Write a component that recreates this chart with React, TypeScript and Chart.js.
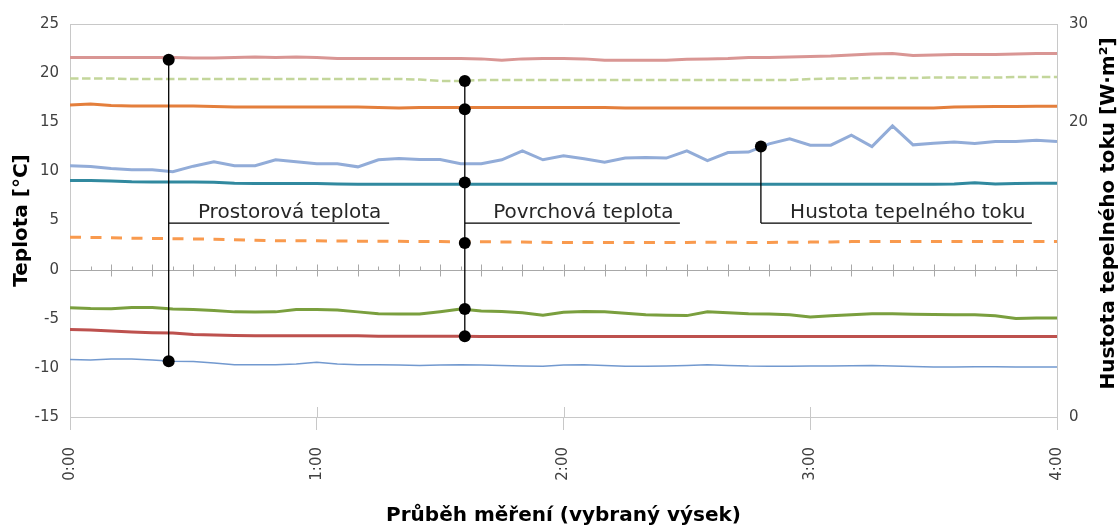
import React, { useEffect, useRef } from "react";
import { Chart, registerables } from "chart.js";

Chart.register(...registerables);

const FONT = "'DejaVu Sans', Verdana, sans-serif";

// time axis (minutes from start)
const timeMinutes = [
  0, 5, 10, 15, 20, 25, 30, 35, 40, 45, 50, 55, 60, 65, 70, 75, 80, 85, 90, 95,
  100, 105, 110, 115, 120, 125, 130, 135, 140, 145, 150, 155, 160, 165, 170, 175,
  180, 185, 190, 195, 200, 205, 210, 215, 220, 225, 230, 235, 240,
];
const hourTickLabels = ["0:00", "1:00", "2:00", "3:00", "4:00"];
const rightTickValues = [-10, 20, 30];
const rightTickLabels = ["0", "20", "30"];

// left axis series (°C)
const airTempIndoor = [
  21.6, 21.6, 21.6, 21.6, 21.6, 21.6, 21.55, 21.55, 21.6, 21.65, 21.6, 21.65, 21.6,
  21.5, 21.5, 21.5, 21.5, 21.5, 21.5, 21.5, 21.45, 21.3, 21.45, 21.5, 21.5, 21.45,
  21.3, 21.3, 21.3, 21.3, 21.4, 21.45, 21.5, 21.6, 21.6, 21.65, 21.7, 21.75, 21.85,
  21.95, 22.0, 21.8, 21.85, 21.9, 21.9, 21.9, 21.95, 22.0, 22.0,
];
const surfTempA = [
  19.45, 19.45, 19.45, 19.4, 19.4, 19.4, 19.4, 19.4, 19.4, 19.4, 19.4, 19.4, 19.4,
  19.4, 19.4, 19.4, 19.4, 19.35, 19.2, 19.2, 19.3, 19.3, 19.3, 19.3, 19.3, 19.3,
  19.3, 19.3, 19.3, 19.3, 19.3, 19.3, 19.3, 19.3, 19.3, 19.3, 19.4, 19.45, 19.45,
  19.5, 19.5, 19.5, 19.55, 19.55, 19.55, 19.55, 19.6, 19.6, 19.6,
];
const surfTempB = [
  16.75, 16.85, 16.7, 16.65, 16.65, 16.65, 16.65, 16.6, 16.55, 16.55, 16.55, 16.55,
  16.55, 16.55, 16.55, 16.5, 16.45, 16.5, 16.5, 16.5, 16.5, 16.5, 16.5, 16.5, 16.5,
  16.5, 16.5, 16.45, 16.45, 16.45, 16.45, 16.45, 16.45, 16.45, 16.45, 16.45, 16.45,
  16.45, 16.45, 16.45, 16.45, 16.45, 16.45, 16.55, 16.58, 16.6, 16.6, 16.62, 16.62,
];
const surfTempC = [
  9.07, 9.07, 9.02, 8.95, 8.93, 8.93, 8.93, 8.9, 8.8, 8.76, 8.76, 8.76, 8.76, 8.72,
  8.68, 8.68, 8.68, 8.68, 8.68, 8.68, 8.68, 8.68, 8.68, 8.68, 8.68, 8.68, 8.68, 8.68,
  8.68, 8.68, 8.68, 8.68, 8.68, 8.68, 8.68, 8.68, 8.68, 8.68, 8.68, 8.68, 8.68, 8.68,
  8.68, 8.72, 8.83, 8.72, 8.76, 8.78, 8.78,
];
const surfTempD = [
  3.3, 3.28, 3.25, 3.2, 3.18, 3.15, 3.12, 3.1, 3.05, 3.0, 2.95, 2.95, 2.93, 2.92, 2.9,
  2.9, 2.88, 2.87, 2.85, 2.84, 2.83, 2.82, 2.8, 2.78, 2.76, 2.75, 2.75, 2.75, 2.75,
  2.76, 2.77, 2.78, 2.78, 2.77, 2.77, 2.78, 2.8, 2.82, 2.85, 2.86, 2.87, 2.87, 2.86,
  2.86, 2.86, 2.86, 2.86, 2.85, 2.85,
];
const surfTempOuterA = [
  -3.87, -3.95, -3.98, -3.86, -3.86, -4.0, -4.07, -4.15, -4.3, -4.31, -4.3, -4.07,
  -4.07, -4.1, -4.3, -4.5, -4.52, -4.52, -4.28, -4.02, -4.2, -4.25, -4.4, -4.65,
  -4.35, -4.25, -4.3, -4.45, -4.6, -4.65, -4.68, -4.3, -4.4, -4.5, -4.52, -4.6, -4.82,
  -4.7, -4.6, -4.5, -4.5, -4.55, -4.58, -4.6, -4.6, -4.7, -4.97, -4.93, -4.93,
];
const surfTempOuterB = [
  -6.1, -6.15, -6.25, -6.35, -6.42, -6.45, -6.6, -6.65, -6.7, -6.72, -6.72, -6.72,
  -6.72, -6.72, -6.72, -6.78, -6.79, -6.79, -6.79, -6.79, -6.8, -6.8, -6.8, -6.8,
  -6.8, -6.8, -6.8, -6.8, -6.8, -6.8, -6.8, -6.8, -6.8, -6.8, -6.8, -6.8, -6.8, -6.8,
  -6.8, -6.8, -6.8, -6.8, -6.8, -6.8, -6.8, -6.8, -6.8, -6.8, -6.8,
];
const airTempOutdoor = [
  -9.14, -9.2, -9.09, -9.1, -9.2, -9.33, -9.35, -9.5, -9.67, -9.67, -9.67, -9.6,
  -9.43, -9.6, -9.67, -9.67, -9.7, -9.77, -9.7, -9.67, -9.7, -9.75, -9.8, -9.84,
  -9.7, -9.67, -9.75, -9.84, -9.84, -9.8, -9.75, -9.67, -9.75, -9.82, -9.84, -9.84,
  -9.8, -9.82, -9.78, -9.75, -9.8, -9.85, -9.9, -9.9, -9.88, -9.88, -9.9, -9.9, -9.9,
];
// right axis series (W·m²)
const heatFlux = [
  15.57, 15.49, 15.29, 15.16, 15.16, 14.96, 15.53, 15.97, 15.57, 15.57, 16.18, 15.97,
  15.77, 15.77, 15.46, 16.18, 16.31, 16.21, 16.21, 15.77, 15.77, 16.18, 17.09, 16.18,
  16.58, 16.28, 15.94, 16.35, 16.41, 16.35, 17.09, 16.1, 16.92, 16.96, 17.8, 18.31,
  17.67, 17.67, 18.69, 17.53, 19.63, 17.7, 17.87, 18.0, 17.83, 18.04, 18.04, 18.18,
  18.04,
];

// callouts: x in minutes, dot values, horizontal leader at leaderValue (left axis)
const callouts = [
  { x: 24, axis: "y", dots: [21.35, -9.33], leaderValue: 4.74, leaderEnd: 77.6, label: "Prostorová teplota", labelX: 31.1 },
  { x: 96, axis: "y", dots: [19.2, 16.32, 8.87, 2.7, -4.0, -6.79], leaderValue: 4.74, leaderEnd: 148.3, label: "Povrchová teplota", labelX: 102.9 },
  { x: 168, axis: "y1", dots: [17.53], leaderValue: 4.74, leaderEnd: 233.9, label: "Hustota tepelného toku", labelX: 175.1 },
];

const xTitle = "Průběh měření (vybraný výsek)";
const yTitle = "Teplota [°C]";
const y1Title = "Hustota tepelného toku [W·m²]";

const mk = (arr: number[]) => timeMinutes.map((t, i) => ({ x: t, y: arr[i] }));

const decorPlugin = {
  id: "decor",
  beforeDatasetsDraw(chart: any) {
    const { ctx, chartArea: a, scales } = chart;
    const xs = scales.x;
    const ys = scales.y;
    ctx.save();
    ctx.lineWidth = 1;
    ctx.strokeStyle = "#c8c8c8";
    ctx.beginPath();
    ctx.moveTo(a.left, Math.round(a.top) + 0.5);
    ctx.lineTo(a.right, Math.round(a.top) + 0.5);
    ctx.stroke();
    // zero axis with ticks
    const y0 = Math.round(ys.getPixelForValue(0)) + 0.5;
    ctx.strokeStyle = "#a8a8a8";
    ctx.beginPath();
    ctx.moveTo(a.left, y0);
    ctx.lineTo(a.right, y0);
    ctx.stroke();
    for (let m = 5; m < 240; m += 5) {
      const px = Math.round(xs.getPixelForValue(m)) + 0.5;
      const major = m % 10 === 0;
      ctx.beginPath();
      ctx.moveTo(px, major ? y0 - 6 : y0 - 4);
      ctx.lineTo(px, major ? y0 + 6 : y0);
      ctx.stroke();
    }
    // hour ticks crossing into plot
    ctx.strokeStyle = "#c8c8c8";
    for (const t of xs.ticks) {
      const px = Math.round(xs.getPixelForValue(t.value)) + 0.5;
      ctx.beginPath();
      ctx.moveTo(px, a.bottom - 10);
      ctx.lineTo(px, a.bottom);
      ctx.stroke();
    }
    ctx.restore();
  },
  afterDatasetsDraw(chart: any) {
    const { ctx, scales } = chart;
    const xs = scales.x;
    ctx.save();
    ctx.strokeStyle = "#000";
    ctx.fillStyle = "#000";
    ctx.lineWidth = 1.3;
    for (const c of callouts) {
      const sc = scales[c.axis];
      const px = xs.getPixelForValue(c.x);
      const ly = scales.y.getPixelForValue(c.leaderValue);
      const dys = c.dots.map((d) => sc.getPixelForValue(d));
      const top = Math.min(ly, ...dys);
      const bot = Math.max(ly, ...dys);
      ctx.beginPath();
      ctx.moveTo(px, top);
      ctx.lineTo(px, bot);
      ctx.moveTo(px, ly);
      ctx.lineTo(xs.getPixelForValue(c.leaderEnd), ly);
      ctx.stroke();
      for (const dy of dys) {
        ctx.beginPath();
        ctx.arc(px, dy, 6, 0, Math.PI * 2);
        ctx.fill();
      }
      ctx.font = `20px ${FONT}`;
      ctx.fillStyle = "#262626";
      ctx.textBaseline = "alphabetic";
      ctx.textAlign = "left";
      ctx.fillText(c.label, xs.getPixelForValue(c.labelX), ly - 5);
      ctx.fillStyle = "#000";
    }
    ctx.restore();
  },
  afterDraw(chart: any) {
    const { ctx, chartArea: a } = chart;
    ctx.save();
    ctx.translate(a.right + 52, (a.top + a.bottom) / 2 - 7);
    ctx.rotate(-Math.PI / 2);
    ctx.font = `bold 20px ${FONT}`;
    ctx.fillStyle = "#000";
    ctx.textAlign = "center";
    ctx.textBaseline = "middle";
    ctx.fillText(y1Title, 0, 0);
    ctx.restore();
  },
};

export default function App() {
  const ref = useRef<HTMLCanvasElement>(null);
  useEffect(() => {
    if (!ref.current) return;
    const line = (data: number[], color: string, width: number, axis = "y", dash: number[] = []) => ({
      data: mk(data),
      borderColor: color,
      backgroundColor: color,
      borderWidth: width,
      borderDash: dash,
      pointRadius: 0,
      tension: 0,
      yAxisID: axis,
      borderCapStyle: "butt",
    });
    const chart = new Chart(ref.current, {
      type: "line",
      data: {
        datasets: [
          line(airTempIndoor, "#d99694", 3),
          line(surfTempA, "#c3d69b", 2.5, "y", [8.5, 3.5]),
          line(surfTempB, "#e47f3c", 3),
          line(heatFlux, "#92acd8", 3, "y1"),
          line(surfTempC, "#31899f", 3),
          line(surfTempD, "#f99a4e", 3, "y", [11, 9.5]),
          line(surfTempOuterA, "#7a9f3e", 3),
          line(surfTempOuterB, "#bd514e", 3),
          line(airTempOutdoor, "#7299cf", 1.5),
        ] as any,
      },
      options: {
        responsive: false,
        animation: false,
        devicePixelRatio: 1,
        layout: { padding: { left: 8, right: 0, top: 24, bottom: 0 } },
        plugins: { legend: { display: false }, tooltip: { enabled: false } },
        scales: {
          x: {
            type: "linear",
            min: 0,
            max: 240,
            ticks: {
              stepSize: 60,
              minRotation: 90,
              maxRotation: 90,
              padding: 17,
              color: "#404040",
              font: { family: FONT, size: 15 },
              callback: (v: any) => hourTickLabels[Math.round(Number(v) / 60)] ?? "",
            },
            grid: { drawOnChartArea: false, drawTicks: true, tickLength: 13, color: "#c8c8c8" },
            border: { display: true, color: "#c8c8c8" },
            title: {
              display: true,
              text: xTitle,
              color: "#000",
              font: { family: FONT, size: 20, weight: "bold" },
              padding: { top: 0, bottom: 1 },
            },
            afterFit: (s: any) => {
              s.height = 112;
            },
          },
          y: {
            type: "linear",
            position: "left",
            min: -15,
            max: 25,
            ticks: { stepSize: 5, padding: 11, color: "#404040", font: { family: FONT, size: 15 } },
            grid: { display: false, drawTicks: false },
            border: { display: true, color: "#c8c8c8" },
            title: {
              display: true,
              text: yTitle,
              color: "#000",
              font: { family: FONT, size: 20, weight: "bold" },
              padding: { top: 2, bottom: 0 },
            },
            afterFit: (s: any) => {
              s.width = 62;
            },
          },
          y1: {
            type: "linear",
            position: "right",
            min: -10,
            max: 30,
            afterBuildTicks: (s: any) => {
              s.ticks = rightTickValues.map((v) => ({ value: v }));
            },
            ticks: {
              padding: 12,
              color: "#404040",
              font: { family: FONT, size: 15 },
              callback: (v: any) => {
                const i = rightTickValues.indexOf(Number(v));
                return i >= 0 ? rightTickLabels[i] : "";
              },
            },
            grid: { display: false, drawTicks: false },
            border: { display: true, color: "#c8c8c8" },
            afterFit: (s: any) => {
              s.width = 63;
            },
          },
        },
      } as any,
      plugins: [decorPlugin],
    });
    return () => chart.destroy();
  }, []);
  return (
    <div style={{ position: "absolute", left: 0, top: 0, width: 1120, height: 529, background: "#fff" }}>
      <canvas ref={ref} width={1120} height={529} style={{ display: "block" }} />
    </div>
  );
}
